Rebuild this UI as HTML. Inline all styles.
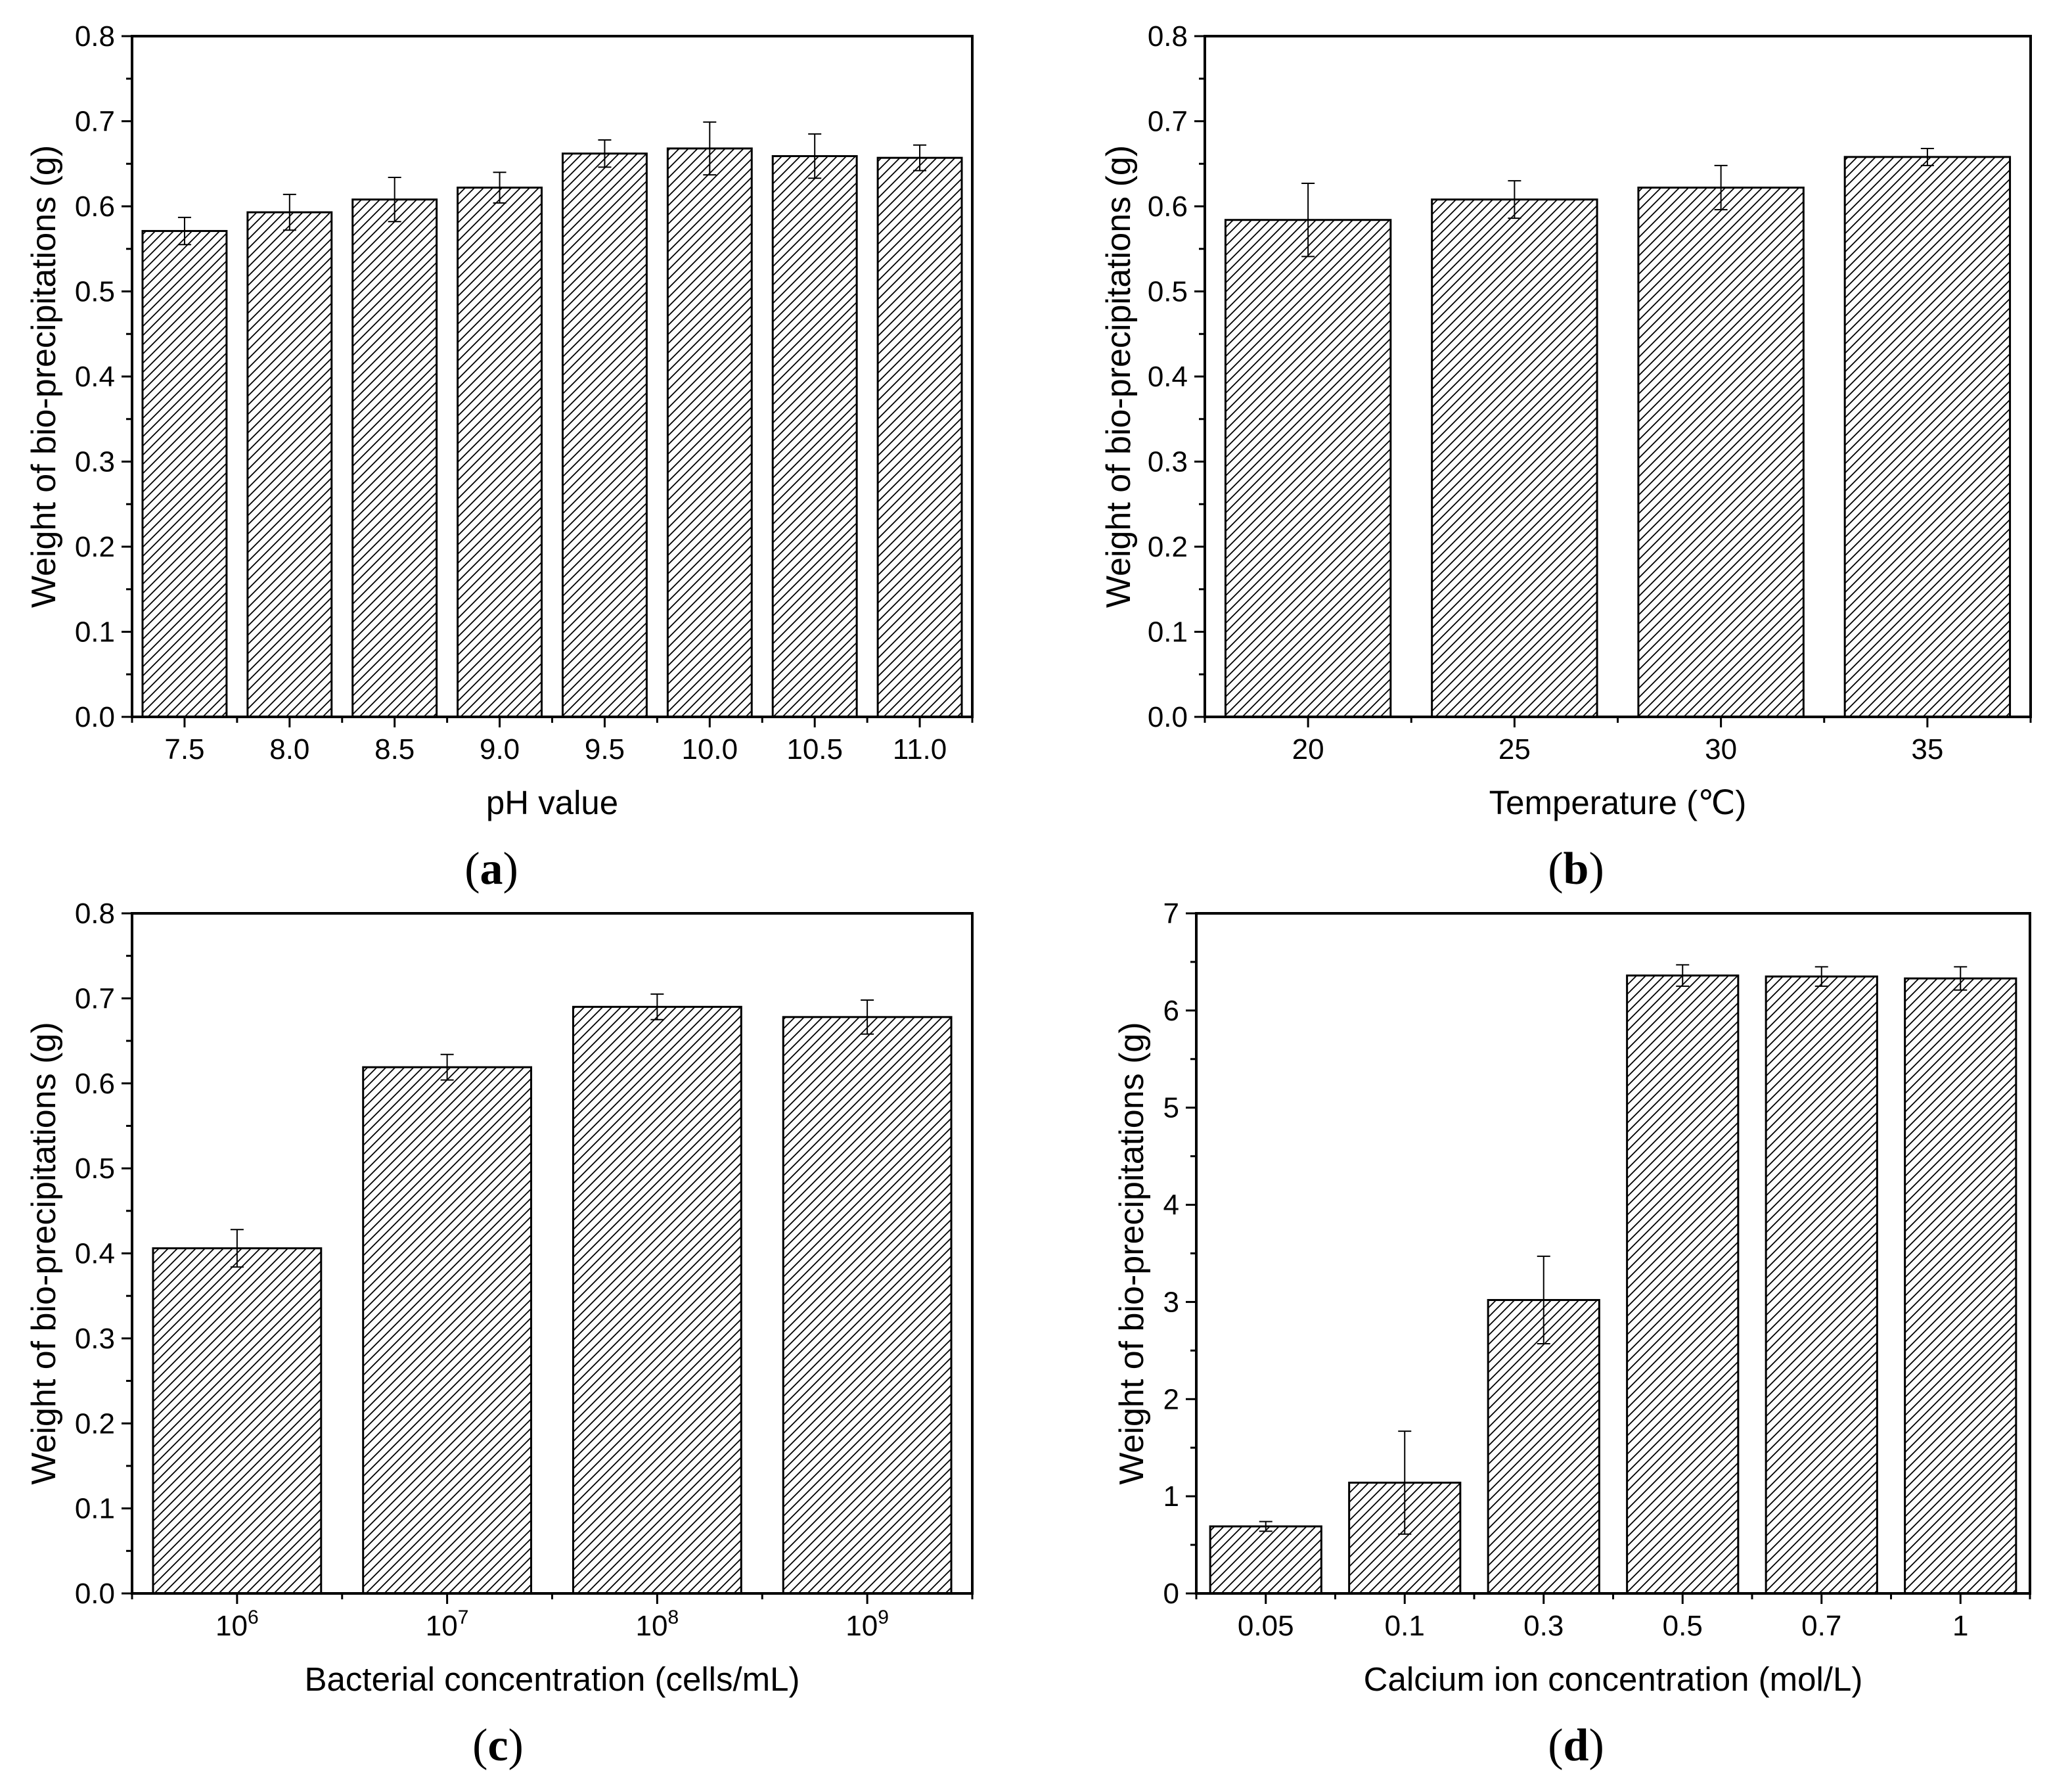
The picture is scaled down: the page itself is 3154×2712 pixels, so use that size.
<!DOCTYPE html>
<html><head><meta charset="utf-8"><style>
html,body{margin:0;padding:0;background:#fff;}
svg{display:block;font-family:"Liberation Sans",sans-serif;}
</style></head><body>
<svg id="fig" width="3154" height="2712" viewBox="0 0 3154 2712" xmlns="http://www.w3.org/2000/svg">
<defs>
<pattern id="hatch" patternUnits="userSpaceOnUse" width="14" height="14">
<path d="M-2,2 L2,-2 M0,14 L14,0 M12,16 L16,12" stroke="#000" stroke-width="1.8"/>
</pattern>
</defs>
</svg>
<script>
const catsA=["7.5","8.0","8.5","9.0","9.5","10.0","10.5","11.0"];
const valsA=[0.571,0.593,0.608,0.622,0.662,0.668,0.659,0.657];
const errsA=[0.016,0.021,0.026,0.018,0.016,0.031,0.026,0.015];
const catsB=["20","25","30","35"];
const valsB=[0.584,0.608,0.622,0.658];
const errsB=[0.043,0.022,0.026,0.010];
const catsC=["6","7","8","9"];
const valsC=[0.406,0.619,0.690,0.678];
const errsC=[0.022,0.015,0.015,0.020];
const catsD=["0.05","0.1","0.3","0.5","0.7","1"];
const valsD=[0.69,1.14,3.02,6.36,6.35,6.33];
const errsD=[0.05,0.53,0.45,0.11,0.10,0.12];
const ticksA=["0.0","0.1","0.2","0.3","0.4","0.5","0.6","0.7","0.8"];
const ticksD=["0","1","2","3","4","5","6","7"];

const NS="http://www.w3.org/2000/svg";
const svg=document.getElementById('fig');
function mk(tag,attrs,parent){const e=document.createElementNS(NS,tag);for(const k in attrs)e.setAttribute(k,attrs[k]);(parent||svg).appendChild(e);return e;}

function panel(o){
  const g=mk('g',{});
  
  
  const L=o.l,R=o.r,T=o.t,B=o.b,n=o.cats.length,slot=(R-L)/n;
  const ymax=o.ymax;
  const y=v=>B-(v/ymax)*(B-T);
  const x=i=>L+slot*(i+0.5);
  o.vals.forEach((v,i)=>{
    const w=slot*0.8;
    const r=mk('rect',{x:x(i)-w/2,y:y(v),width:w,height:B-y(v),fill:'url(#hatch)',stroke:'#000','stroke-width':3},g);
    
    
    const e=o.errs[i],cx=x(i);
    const eb=mk('path',{d:`M${cx},${y(v+e)}V${y(v-e)}M${cx-10},${y(v+e)}H${cx+10}M${cx-10},${y(v-e)}H${cx+10}`,stroke:'#000','stroke-width':2,fill:'none'},g);
    
    
  });
  const fr=mk('rect',{x:L,y:T,width:R-L,height:B-T,fill:'none',stroke:'#000','stroke-width':4},g);
  
  
  o.ticks.forEach((t,i)=>{
    const v=parseFloat(t),yy=y(v);
    mk('line',{x1:L-16,x2:L,y1:yy,y2:yy,stroke:'#000','stroke-width':3},g);
    if(i<o.ticks.length-1){const ym=y(v+o.step/2);mk('line',{x1:L-9,x2:L,y1:ym,y2:ym,stroke:'#000','stroke-width':3},g);}
    const tx=mk('text',{x:L-26,y:yy+15,'font-size':44,'text-anchor':'end'},g);
    tx.textContent=t;
    
    
  });
  for(let i=0;i<=n;i++){const xx=L+slot*i;mk('line',{x1:xx,x2:xx,y1:B,y2:B+9,stroke:'#000','stroke-width':3},g);}
  o.cats.forEach((c,i)=>{
    mk('line',{x1:x(i),x2:x(i),y1:B,y2:B+16,stroke:'#000','stroke-width':3},g);
    const tx=mk('text',{x:x(i),y:B+64,'font-size':44,'text-anchor':'middle'},g);
    if(o.pow){tx.textContent='10';const s=mk('tspan',{dy:-18,'font-size':30},tx);s.textContent=c;}
    else tx.textContent=c;
    
    
  });
  const xt=mk('text',{x:(L+R)/2,y:B+148,'font-size':51,'text-anchor':'middle'},g);
  xt.textContent=o.xtitle;
  
  
  const yc=(T+B)/2;
  const yt=mk('text',{x:o.ytx,y:yc,'font-size':52,'text-anchor':'middle',transform:`rotate(-90 ${o.ytx} ${yc})`},g);
  yt.textContent='Weight of bio-precipitations (g)';
  
  
  const lb=mk('text',{x:o.lx,y:B+254,'font-size':70,'text-anchor':'middle','font-family':'"Liberation Serif",serif'},g);
  const t1=mk('tspan',{},lb);t1.textContent='(';
  const t2=mk('tspan',{'font-weight':'bold'},lb);t2.textContent=o.label;
  const t3=mk('tspan',{},lb);t3.textContent=')';
  
  
}
panel({name:'panel-a-ph',l:201,r:1480,t:55,b:1091,cats:catsA,vals:valsA,errs:errsA,ymax:0.8,ticks:ticksA,step:0.1,xtitle:'pH value',ytx:84,label:'a',lx:748});
panel({name:'panel-b-temperature',l:1834,r:3091,t:55,b:1091,cats:catsB,vals:valsB,errs:errsB,ymax:0.8,ticks:ticksA,step:0.1,xtitle:'Temperature (℃)',ytx:1720,label:'b',lx:2399});
panel({name:'panel-c-bacterial',l:201,r:1480,t:1390,b:2425,cats:catsC,vals:valsC,errs:errsC,ymax:0.8,ticks:ticksA,step:0.1,xtitle:'Bacterial concentration (cells/mL)',ytx:84,label:'c',pow:true,lx:758});
panel({name:'panel-d-calcium',l:1821,r:3090,t:1390,b:2425,cats:catsD,vals:valsD,errs:errsD,ymax:7,ticks:ticksD,step:1,xtitle:'Calcium ion concentration (mol/L)',ytx:1740,label:'d',lx:2399});
</script>
</body></html>
